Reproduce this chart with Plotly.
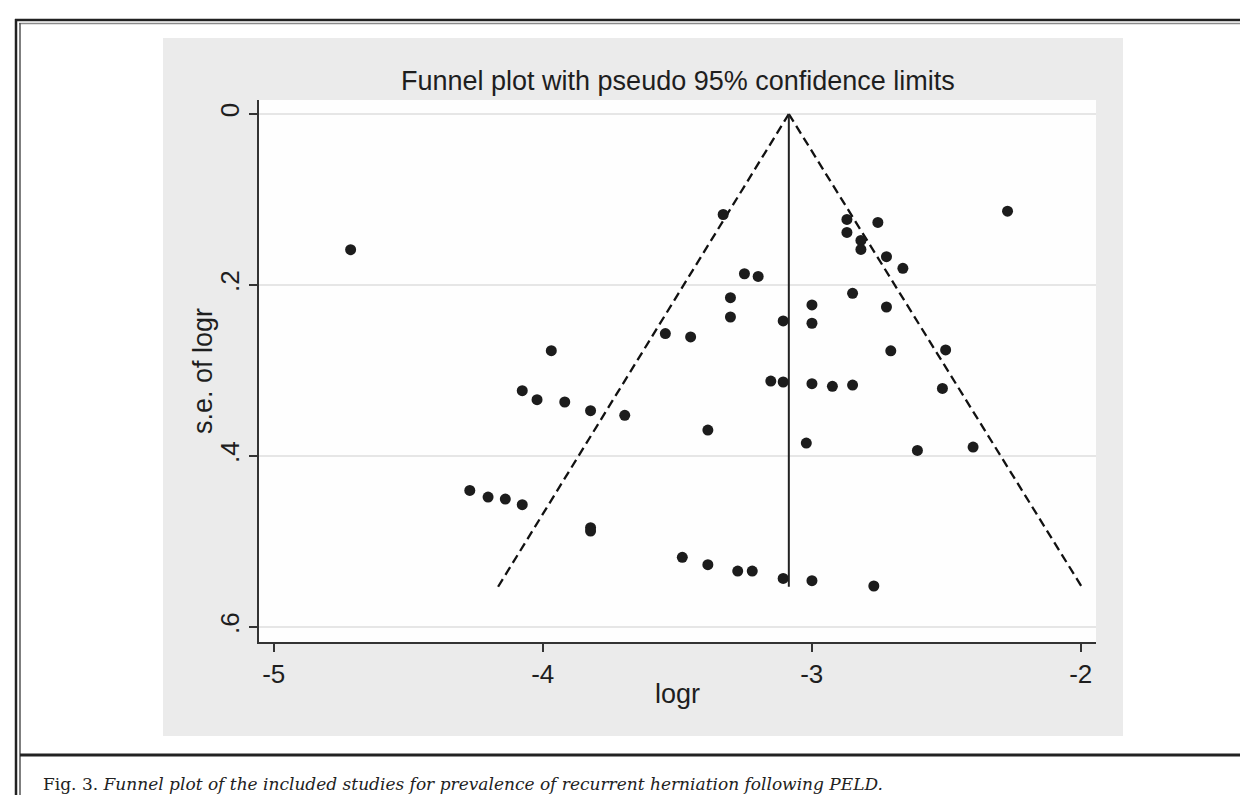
import plotly.graph_objects as go

# ---- data ----
logr = [-4.714,
        -3.329, -2.272, -2.869, -2.754, -2.869, -2.817, -2.817, -2.722, -2.661,
        -3.250, -3.199, -2.848, -3.302, -2.999, -2.722, -3.302, -3.106, -2.999,
        -3.544, -3.450, -2.706, -2.502,
        -3.968, -4.076, -4.021, -4.271, -4.203, -4.139, -4.076,
        -3.152, -3.106, -2.999, -2.923, -2.848, -2.514, -3.918, -3.822, -3.695,
        -3.386, -3.020, -2.607, -2.400, -3.822, -3.822, -3.481, -3.386, -3.275,
        -3.221, -3.106, -2.999, -2.769]
se_logr = [0.1587,
           0.1175, 0.1136, 0.1233, 0.1268, 0.1385, 0.1479, 0.1584, 0.1669, 0.1805,
           0.1868, 0.1899, 0.2097, 0.2148, 0.2233, 0.2257, 0.2374, 0.2420, 0.2447,
           0.2568, 0.2607, 0.2770, 0.2759,
           0.2768, 0.3236, 0.3341, 0.4402, 0.4480, 0.4503, 0.4569,
           0.3123, 0.3134, 0.3154, 0.3185, 0.3170, 0.3209, 0.3368, 0.3470, 0.3524,
           0.3696, 0.3848, 0.3934, 0.3895, 0.4838, 0.4877, 0.5185, 0.5271, 0.5345,
           0.5345, 0.5431, 0.5458, 0.5520]

pooled_logr = [-3.085, -3.085]
funnel_se = [0.0, 0.553]
lower_limit = [-3.085, -4.166]
upper_limit = [-3.085, -1.996]

x_ticks = [-5, -4, -3, -2]
x_tick_text = ["-5", "-4", "-3", "-2"]
y_ticks = [0, 0.2, 0.4, 0.6]
y_tick_text = ["0", ".2", ".4", ".6"]

title_text = "Funnel plot with pseudo 95% confidence limits"
x_title = "logr"
y_title = "s.e. of logr"
caption = ("Fig. 3. <i>Funnel plot of the included studies for prevalence of "
           "recurrent herniation following PELD.</i>")

# ---- layout geometry (pixels) ----
W, H = 1248, 795
PL, PR, PT, PB = 251, 1088, 92, 634


def px(x):
    return (x - PL) / (PR - PL)


def py(y):
    return (PB - y) / (PB - PT)


SANS = "Liberation Sans, Arial, Helvetica, sans-serif"
INK = "#1e1e1e"

fig = go.Figure()

fig.add_trace(go.Scatter(x=lower_limit, y=funnel_se, mode="lines",
                         line=dict(color="#111111", width=2.3, dash="9px,5px"),
                         hoverinfo="skip", showlegend=False))
fig.add_trace(go.Scatter(x=upper_limit, y=funnel_se, mode="lines",
                         line=dict(color="#111111", width=2.3, dash="9px,5px"),
                         hoverinfo="skip", showlegend=False))
fig.add_trace(go.Scatter(x=pooled_logr, y=funnel_se, mode="lines",
                         line=dict(color="#222222", width=2),
                         hoverinfo="skip", showlegend=False))
fig.add_trace(go.Scatter(x=logr, y=se_logr, mode="markers",
                         marker=dict(color="#1c1c1c", size=11, line=dict(width=0)),
                         showlegend=False))

shapes = [
    # gray graph region
    dict(type="rect", xref="paper", yref="paper", x0=px(155), x1=px(1115),
         y0=py(728), y1=py(30), fillcolor="#ebebeb", line=dict(width=0), layer="below"),
    # white plot region
    dict(type="rect", xref="paper", yref="paper", x0=0, x1=1, y0=0, y1=1,
         fillcolor="#fefefe", line=dict(width=0), layer="below"),
    # frame lines
    dict(type="line", xref="paper", yref="paper", x0=px(7), x1=px(W + 5),
         y0=py(12), y1=py(12), line=dict(color="#222222", width=2.5)),
    dict(type="line", xref="paper", yref="paper", x0=px(11), x1=px(W + 5),
         y0=py(15.5), y1=py(15.5), line=dict(color="#8a8a8a", width=1.5)),
    dict(type="line", xref="paper", yref="paper", x0=px(8), x1=px(8),
         y0=py(11), y1=py(H + 5), line=dict(color="#222222", width=2.5)),
    dict(type="line", xref="paper", yref="paper", x0=px(12), x1=px(12),
         y0=py(15), y1=py(H + 5), line=dict(color="#555555", width=1.5)),
    dict(type="line", xref="paper", yref="paper", x0=px(12), x1=px(W + 5),
         y0=py(747), y1=py(747), line=dict(color="#222222", width=3)),
]

annotations = [
    dict(text=title_text, xref="paper", yref="paper", x=px(669.5), y=py(73),
         xanchor="center", yanchor="middle", showarrow=False,
         font=dict(family=SANS, size=27, color=INK)),
    dict(text=x_title, xref="paper", yref="paper", x=px(669.5), y=py(686),
         xanchor="center", yanchor="middle", showarrow=False,
         font=dict(family=SANS, size=27, color=INK)),
    dict(text=y_title, xref="paper", yref="paper", x=px(195), y=py(363),
         xanchor="center", yanchor="middle", showarrow=False, textangle=-90,
         font=dict(family=SANS, size=27, color=INK)),
    dict(text=caption, xref="paper", yref="paper", x=px(33), y=py(776),
         xanchor="left", yanchor="middle", showarrow=False,
         font=dict(family="DejaVu Serif, Liberation Serif, serif", size=17, color="#222222")),
]

fig.update_layout(
    width=W, height=H,
    margin=dict(l=PL, r=W - PR, t=PT, b=H - PB, pad=0),
    paper_bgcolor="white", plot_bgcolor="#fefefe",
    shapes=shapes, annotations=annotations,
    showlegend=False,
    xaxis=dict(range=[-5.0546, -1.9431], tickmode="array", tickvals=x_ticks,
               ticktext=x_tick_text, ticks="outside", ticklen=8, tickwidth=1.5,
               tickcolor="#333333", showline=True, linecolor="#333333", linewidth=1.5,
               showgrid=False, zeroline=False,
               tickfont=dict(family=SANS, size=26, color=INK)),
    yaxis=dict(range=[0.6175, -0.0164], tickmode="array", tickvals=y_ticks,
               ticktext=y_tick_text, tickangle=-90, ticks="outside", ticklen=8,
               tickwidth=1.5, tickcolor="#333333", showline=True, linecolor="#333333",
               linewidth=1.5, showgrid=True, gridcolor="#e6e6e6", gridwidth=1.5,
               zeroline=False, tickfont=dict(family=SANS, size=26, color=INK)),
)

fig.write_html("out.html")
